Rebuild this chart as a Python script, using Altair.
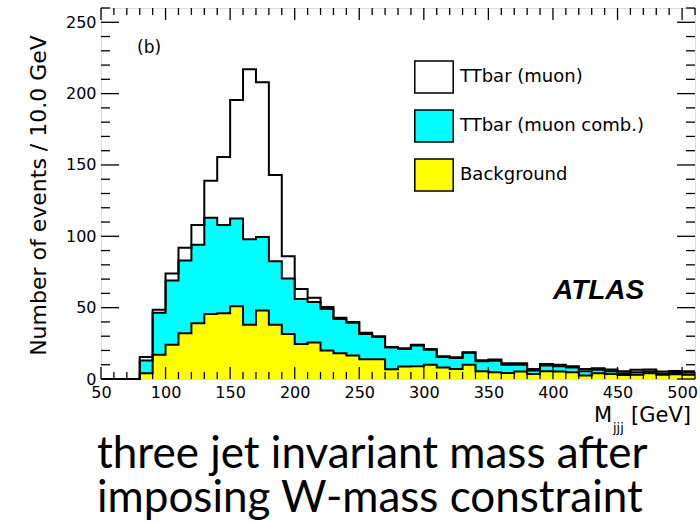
import altair as alt
import pandas as pd

# ---------------- data ----------------
bin_starts = list(range(50, 510, 10))  # 46 bins of 10 GeV, 50..510
bin_width = 10

# stacked tops of each histogram (events / 10 GeV)
muon_top = [0, 0, 0, 15.5, 48.5, 74, 92, 108, 139, 155.5,
            195.5, 217, 208, 143, 86, 63, 57, 50.5, 43, 40,
            32.5, 30, 22.5, 21.5, 24, 21, 16, 15.3, 18.8, 13.2,
            13.6, 11, 11, 7, 10.5, 10, 9, 7, 7.5, 6.6,
            5.4, 6.4, 6.6, 5.2, 5.6, 5.5]
comb_top = [0, 0, 0, 13, 46.5, 69, 83, 94, 113, 108,
            112.5, 98, 99.5, 82.5, 70.5, 56, 54, 49, 42, 39.5,
            31.5, 29.5, 22, 21, 23.5, 20.5, 15.5, 14.8, 18.4, 12.5,
            12.8, 10, 10, 6, 9.5, 9, 8, 5.5, 6.4, 5.4,
            4, 4.8, 5.2, 3.8, 4.2, 4.5]
background = [0, 0, 0, 4, 17, 24, 32, 39, 45.5, 46,
              51, 38, 48, 38, 31.5, 24.5, 25.5, 20, 18, 16.5,
              13.8, 13.8, 6.8, 8.8, 9, 10, 8, 7, 10, 5.4,
              4.7, 4.2, 5.2, 3.5, 5.4, 5.2, 4.7, 2.4, 4, 3.5,
              2.8, 3, 4, 3, 3.3, 3]

series_names = ["TTbar (muon)", "TTbar (muon comb.)", "Background"]
series_colors = ["#ffffff", "#00ffff", "#ffff00"]
series_values = [muon_top, comb_top, background]

x_label_values = [50, 100, 150, 200, 250, 300, 350, 400, 450, 500]
y_label_values = [0, 50, 100, 150, 200, 250]
x_minor_ticks = list(range(50, 511, 10))
y_minor_ticks = list(range(0, 261, 10))

x_title_main = "M"
x_title_sub = "jjj"
x_title_unit = "[GeV]"
y_title = "Number of events / 10.0 GeV"
panel_label = "(b)"
experiment_label = "ATLAS"
caption_lines = ["three jet invariant mass after", "imposing W-mass constraint"]

# ---------------- tables ----------------
rows = []
for name, vals in zip(series_names, series_values):
    for x0, v in zip(bin_starts, vals):
        rows.append({"series": name, "x": x0, "v": v})
    rows.append({"series": name, "x": bin_starts[-1] + bin_width, "v": vals[-1]})
hist = pd.DataFrame(rows)

x_ticks = pd.DataFrame({"x": x_minor_ticks})
x_ticks["major"] = x_ticks["x"].isin(x_label_values)
y_ticks = pd.DataFrame({"v": y_minor_ticks})
y_ticks["major"] = y_ticks["v"].isin(y_label_values)

W, H = 594, 371
FONT = "DejaVu Sans"

xscale = alt.Scale(domain=[50, 510], nice=False, zero=False)
yscale = alt.Scale(domain=[0, 260], nice=False)

x_axis = alt.Axis(values=x_label_values, ticks=False, domain=False, grid=False,
                  labelFont=FONT, labelFontSize=16, labelColor="black",
                  labelPadding=5, labelFlush=False, title=None)
y_axis = alt.Axis(values=y_label_values, ticks=False, domain=False, grid=False,
                  labelFont=FONT, labelFontSize=16, labelColor="black",
                  labelPadding=5, title=y_title, titleFont=FONT, titleFontSize=22,
                  titleFontWeight="normal", titleColor="black", titleAngle=270,
                  titleX=-63, titleY=187, titleAlign="center", titleBaseline="middle")

X = alt.X("x:Q", scale=xscale, axis=x_axis)
Y = alt.Y("v:Q", scale=yscale, stack=None, axis=y_axis)

fill_enc = alt.Fill("series:N",
                    scale=alt.Scale(domain=series_names, range=series_colors),
                    legend=alt.Legend(orient="none", legendX=316, legendY=52,
                                      title=None, padding=0,
                                      symbolType="M-1.2,-1H1.2V1H-1.2Z",
                                      symbolSize=1024, symbolStrokeColor="black",
                                      symbolStrokeWidth=1.5, symbolOpacity=1,
                                      labelFont=FONT, labelFontSize=18,
                                      labelColor="black", labelOffset=9,
                                      labelLimit=400, rowPadding=11))

layers = []
for name in series_names:
    layers.append(
        alt.Chart(hist).transform_filter(alt.datum.series == name)
        .mark_area(interpolate="step-after", opacity=1, fillOpacity=1)
        .encode(x=X, y=Y, fill=fill_enc)
    )
for name in series_names:
    layers.append(
        alt.Chart(hist).transform_filter(alt.datum.series == name)
        .mark_line(interpolate="step-after", color="black", strokeWidth=2)
        .encode(x=X, y=Y)
    )

# inward ROOT-style ticks on all four sides
def xtick_layer(major, top):
    ln = 12 if major else 7
    y0 = 0 if top else H
    y1 = ln if top else H - ln
    return (alt.Chart(x_ticks).transform_filter(alt.datum.major == major)
            .mark_rule(color="black", strokeWidth=1.3)
            .encode(x=X, y=alt.value(y0), y2=alt.value(y1)))

def ytick_layer(major, right):
    ln = 18 if major else 9
    x0 = W if right else 0
    x1 = W - ln if right else ln
    return (alt.Chart(y_ticks).transform_filter(alt.datum.major == major)
            .mark_rule(color="black", strokeWidth=1.3)
            .encode(y=Y, x=alt.value(x0), x2=alt.value(x1)))

for mj in (False, True):
    for side in (False, True):
        layers.append(xtick_layer(mj, side))
        layers.append(ytick_layer(mj, side))

def text_layer(txt, x, y, size, font=FONT, align="left", baseline="alphabetic",
               weight="normal", style="normal"):
    return (alt.Chart(pd.DataFrame({"t": [txt]}))
            .mark_text(font=font, fontSize=size, align=align, baseline=baseline,
                       fontWeight=weight, fontStyle=style, color="black")
            .encode(x=alt.value(x), y=alt.value(y), text="t:N"))

layers.append(text_layer(x_title_main, 493, 414, 21))
layers.append(text_layer(x_title_sub, 512, 424, 13))
layers.append(text_layer(x_title_unit, 590, 414, 21, align="right"))
layers.append(text_layer(panel_label, 36, 40, 17, baseline="middle"))
layers.append(text_layer(experiment_label, 452, 283, 28, font="Liberation Sans",
                         baseline="middle", weight="bold", style="italic"))
layers.append(text_layer(caption_lines[0], -4, 460, 44, font="Lato"))
layers.append(text_layer(caption_lines[1], -4, 504, 44, font="Lato"))

chart = (alt.layer(*layers)
         .properties(width=W, height=H,
                     autosize=alt.AutoSizeParams(type="none"),
                     padding={"left": 101, "top": 8, "right": 5, "bottom": 143})
         .configure_view(stroke="black", strokeWidth=1.5)
         .configure(background="white"))

chart.save("out.html", embed_options={"renderer": "svg", "actions": False})
